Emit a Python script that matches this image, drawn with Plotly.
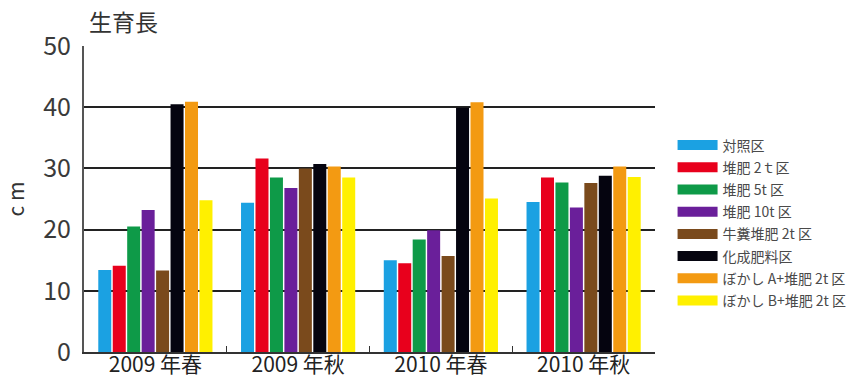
import plotly.graph_objects as go

# Season labels and treatment plots
seasons = ["2009 年春", "2009 年秋", "2010 年春", "2010 年秋"]
treatments = ["対照区", "堆肥 2ｔ区", "堆肥 5t 区", "堆肥 10t 区",
              "牛糞堆肥 2t 区", "化成肥料区", "ぼかし A+堆肥 2t 区", "ぼかし B+堆肥 2t 区"]
colors = ["#1ba1e2", "#e8001c", "#0e9a48", "#6a1f9a",
          "#7a4a1c", "#05040f", "#f39a12", "#fff000"]

# Growth length (cm) per treatment, one value per season
control = [13.4, 24.4, 15.0, 24.5]
compost_2t = [14.1, 31.6, 14.5, 28.5]
compost_5t = [20.5, 28.5, 18.4, 27.7]
compost_10t = [23.2, 26.8, 19.9, 23.6]
cattle_2t = [13.3, 30.0, 15.7, 27.6]
chemical = [40.5, 30.7, 39.9, 28.8]
bokashi_a = [40.9, 30.3, 40.8, 30.3]
bokashi_b = [24.8, 28.5, 25.1, 28.6]

series = [control, compost_2t, compost_5t, compost_10t,
          cattle_2t, chemical, bokashi_a, bokashi_b]

yticks = [0, 10, 20, 30, 40, 50]

font_family = "Noto Sans CJK JP, Noto Sans, sans-serif"

fig = go.Figure()
for name, vals, col in zip(treatments, series, colors):
    fig.add_trace(go.Bar(x=seasons, y=vals, name=name, marker_color=col,
                         marker_line_width=0, showlegend=False, legendgroup=name))
    # wide swatch entry for the legend
    fig.add_trace(go.Scatter(x=[None], y=[None], mode="lines", name=name,
                             line=dict(color=col, width=11), legendgroup=name,
                             showlegend=True))

fig.update_layout(
    width=846, height=378,
    margin=dict(l=84, r=191, t=46, b=26, autoexpand=False),
    plot_bgcolor="white", paper_bgcolor="white",
    barmode="group", bargap=0.19, bargroupgap=0.1,
    font=dict(family=font_family, color="#333333"),
    legend=dict(x=0.795, y=0.41, xref="container", yref="container",
                xanchor="left", yanchor="middle",
                font=dict(size=14, color="#4a4a4a"), tracegroupgap=1,
                itemwidth=40, bgcolor="rgba(0,0,0,0)"),
    annotations=[dict(text="生育長", xref="paper", yref="paper", x=0.005, y=1,
                      xanchor="left", yanchor="bottom", yshift=6, showarrow=False,
                      font=dict(size=23, color="#333333"))],
)

fig.update_yaxes(
    range=[0, 50], tickvals=yticks, ticktext=[str(v) for v in yticks],
    tickfont=dict(size=25, color="#3a3a3a"),
    showgrid=True, gridcolor="#222222", gridwidth=2,
    showline=True, linecolor="#555555", linewidth=2,
    zeroline=False, ticks="outside", ticklen=6, tickcolor="rgba(0,0,0,0)",
    title=dict(text="c m", font=dict(size=21, color="#333333"), standoff=18),
)
fig.update_xaxes(
    tickfont=dict(size=21, color="#222222"), automargin=False,
    ticklabelstandoff=-7,
    showline=True, linecolor="#333333", linewidth=2,
    ticks="inside", tickson="boundaries", ticklen=6, tickcolor="#333333",
    showgrid=False,
)

fig.write_html("out.html")
